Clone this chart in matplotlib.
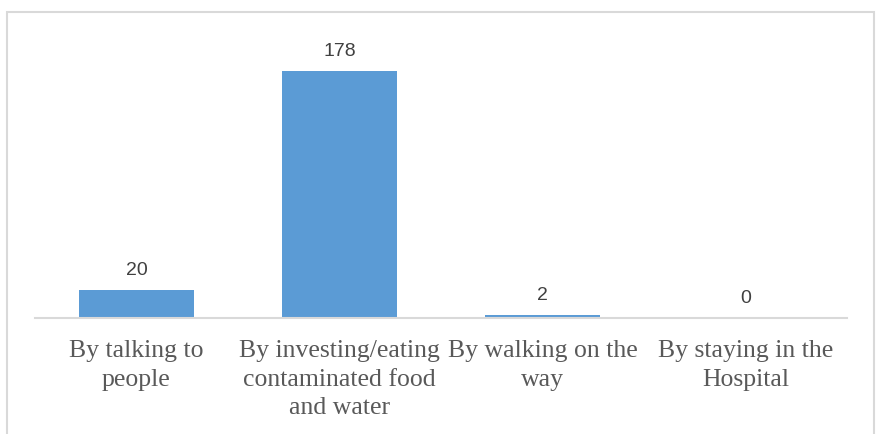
import matplotlib
matplotlib.use("Agg")
import matplotlib.pyplot as plt
from matplotlib.patches import Rectangle

categories = [
    "By talking to\npeople",
    "By investing/eating\ncontaminated food\nand water",
    "By walking on the\nway",
    "By staying in the\nHospital",
]
values = [20, 178, 2, 0]

W, H, DPI = 876, 434, 100
fig = plt.figure(figsize=(W / DPI, H / DPI), dpi=DPI)
fig.patch.set_facecolor("white")

# light outer frame of the chart area
fig.add_artist(Rectangle((7 / W, -0.05), (867) / W, 1.05 - 12 / H,
                         transform=fig.transFigure, fill=False,
                         edgecolor="#d9d9d9", linewidth=1.5))

ymax = 200
px_per_unit = 247 / 178
ax_left, ax_right, ax_base = 35, 847, 318
ax_h = ymax * px_per_unit
ax = fig.add_axes([ax_left / W, (H - ax_base) / H,
                   (ax_right - ax_left) / W, ax_h / H])

x = range(len(categories))
bars = ax.bar(x, values, width=0.57, color="#5b9bd5", zorder=2)
ax.set_xlim(-0.5, len(categories) - 0.5)
ax.set_ylim(0, ymax)

for xi, v in zip(x, values):
    ax.annotate(str(v), (xi, v), xytext=(0, 8), textcoords="offset points",
                ha="center", va="bottom", fontsize=14,
                family="Liberation Sans", color="#404040")

ax.set_xticks(list(x))
ax.set_xticklabels(categories, family="Liberation Serif", fontsize=18.5,
                   color="#595959", linespacing=1.38)
ax.tick_params(axis="x", length=0, pad=16)
ax.set_yticks([])
for s in ["top", "left", "right"]:
    ax.spines[s].set_visible(False)
ax.spines["bottom"].set_color("#d9d9d9")
ax.spines["bottom"].set_linewidth(1.5)
ax.set_facecolor("none")

fig.savefig("out.png", dpi=DPI)
